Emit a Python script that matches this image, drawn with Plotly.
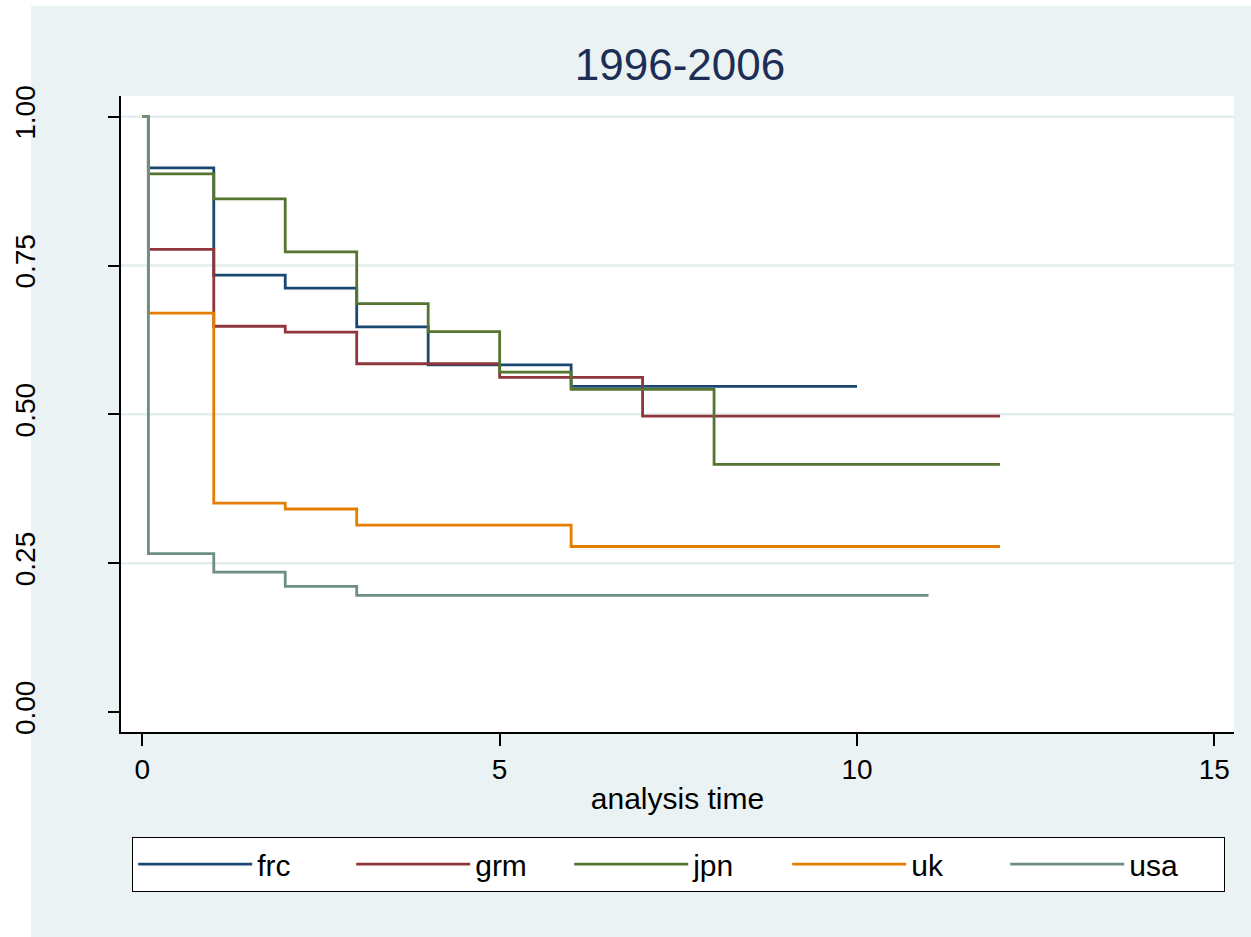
import plotly.graph_objects as go

# Kaplan-Meier survival estimates by country (analysis time in years)
frc_time = [0, 0.085, 1, 2, 3, 4, 6, 10]
frc_surv = [1.0, 0.914, 0.734, 0.712, 0.647, 0.583, 0.547, 0.547]

grm_time = [0, 0.085, 1, 2, 3, 5, 7, 12]
grm_surv = [1.0, 0.777, 0.648, 0.638, 0.585, 0.562, 0.497, 0.497]

jpn_time = [0, 0.085, 1, 2, 3, 4, 5, 6, 8, 12]
jpn_surv = [1.0, 0.904, 0.862, 0.773, 0.686, 0.639, 0.571, 0.542, 0.416, 0.416]

uk_time = [0, 0.085, 1, 2, 3, 6, 12]
uk_surv = [1.0, 0.670, 0.351, 0.341, 0.314, 0.278, 0.278]

usa_time = [0, 0.085, 1, 2, 3, 11]
usa_surv = [1.0, 0.266, 0.235, 0.211, 0.196, 0.196]

series = [
    ("frc", frc_time, frc_surv, "#1a476f"),
    ("grm", grm_time, grm_surv, "#90353b"),
    ("jpn", jpn_time, jpn_surv, "#55752f"),
    ("uk", uk_time, uk_surv, "#e37e00"),
    ("usa", usa_time, usa_surv, "#6e8e84"),
]

x_ticks = [0, 5, 10, 15]
y_ticks = [0.0, 0.25, 0.5, 0.75, 1.0]
grid_levels = [0.25, 0.5, 0.75, 1.0]

FONT = "Liberation Sans, Arial, Helvetica, sans-serif"
REGION = "#eaf2f3"

fig = go.Figure()
for name, t, s, color in series:
    fig.add_trace(go.Scatter(
        x=t, y=s, name=name, mode="lines", line_shape="hv",
        line=dict(color=color, width=2.8),
    ))

W, H = 1251, 937
L, R, T, B = 121, 17, 96, 205
pw, ph = W - L - R, H - T - B

def px_x(p):
    return (p - L) / pw

def px_y(p):
    return (H - B - p) / ph

shapes = []
# white page strips around the graph region
shapes.append(dict(type="rect", xref="paper", yref="paper", layer="below",
                   x0=px_x(-10), x1=px_x(31), y0=px_y(H + 10), y1=px_y(-10),
                   fillcolor="white", line_width=0))
shapes.append(dict(type="rect", xref="paper", yref="paper", layer="below",
                   x0=px_x(-10), x1=px_x(W + 10), y0=px_y(6), y1=px_y(-10),
                   fillcolor="white", line_width=0))
# horizontal grid lines
for g in grid_levels:
    shapes.append(dict(type="line", xref="paper", yref="y", layer="below",
                       x0=0, x1=1, y0=g, y1=g,
                       line=dict(color="#e4edef", width=2.5)))

fig.update_layout(
    width=W, height=H,
    margin=dict(l=L, r=R, t=T, b=B, autoexpand=False),
    paper_bgcolor=REGION,
    plot_bgcolor="white",
    font=dict(family=FONT, color="black"),
    title=dict(text="1996-2006", x=680 / W, xanchor="center",
               y=1 - 65 / H, yanchor="middle", yref="container",
               font=dict(size=44, color="#1c2d56", family=FONT)),
    shapes=shapes,
    showlegend=True,
    legend=dict(
        orientation="h", x=px_x(132), xanchor="left", y=px_y(837), yanchor="top",
        bgcolor="white", bordercolor="black", borderwidth=1.2,
        font=dict(size=30, family=FONT, color="black"),
        itemwidth=114, entrywidth=89, entrywidthmode="pixels",
        tracegroupgap=0,
    ),
)

fig.update_xaxes(
    range=[-0.298, 15.275], tickvals=x_ticks, ticktext=[str(v) for v in x_ticks],
    showgrid=False, zeroline=False,
    showline=True, linecolor="black", linewidth=1.5,
    ticks="outside", ticklen=12, tickwidth=1.5, tickcolor="black",
    tickfont=dict(size=28, family=FONT, color="black"),
    title=dict(text="analysis time", font=dict(size=30, family=FONT, color="black"),
               standoff=4),
)
fig.update_yaxes(
    range=[-0.0336, 1.0348], tickvals=y_ticks,
    ticktext=[f"{v:.2f}" for v in y_ticks], tickangle=-90,
    showgrid=False, zeroline=False,
    showline=True, linecolor="black", linewidth=1.5,
    ticks="outside", ticklen=11, tickwidth=1.5, tickcolor="black",
    tickfont=dict(size=28, family=FONT, color="black"),
    ticklabelstandoff=62,
)

fig.write_html("out.html")
